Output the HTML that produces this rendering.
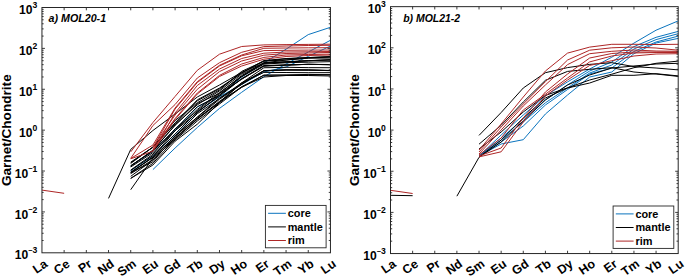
<!DOCTYPE html><html><head><meta charset="utf-8"><style>html,body{margin:0;padding:0;background:#fff;}svg{display:block}text{font-family:"Liberation Sans",sans-serif;}</style></head><body>
<svg width="685" height="277" viewBox="0 0 685 277">
<rect width="685" height="277" fill="#fff"/>
<path d="M130.72,165.95 L152.91,151.34 L175.10,129.67 L197.30,107.04 L219.49,95.57 L241.68,77.00 L263.87,63.00 L286.07,49.20 L308.26,34.60 L330.45,27.30" fill="none" stroke="#0A74BE" stroke-width="1" stroke-linejoin="round"/>
<path d="M130.72,170.76 L152.91,155.80 L175.10,134.31 L197.30,111.92 L219.49,96.69 L241.68,84.50 L263.87,72.00 L286.07,67.00 L308.26,56.40 L330.45,46.00" fill="none" stroke="#0A74BE" stroke-width="1" stroke-linejoin="round"/>
<path d="M152.91,169.60 L175.10,148.00 L197.30,127.50 L219.49,108.40 L241.68,92.30 L263.87,76.70 L286.07,64.00 L308.26,52.00 L330.45,40.30" fill="none" stroke="#0A74BE" stroke-width="1" stroke-linejoin="round"/>
<path d="M108.53,198.40 L130.72,149.40 L152.91,130.50 L175.10,114.00 L197.30,97.00 L219.49,85.00 L241.68,72.30 L263.87,63.00 L286.07,60.00 L308.26,58.00 L330.45,57.00" fill="none" stroke="#000000" stroke-width="1" stroke-linejoin="round"/>
<path d="M130.72,189.70 L152.91,158.00 L175.10,140.00 L197.30,121.00 L219.49,104.00 L241.68,87.00 L263.87,77.00 L286.07,75.50 L308.26,75.50 L330.45,76.00" fill="none" stroke="#000000" stroke-width="1" stroke-linejoin="round"/>
<path d="M130.72,162.79 L152.91,147.26 L175.10,122.87 L197.30,99.85 L219.49,88.03 L241.68,72.88 L263.87,60.55 L286.07,58.51 L308.26,57.58 L330.45,56.72" fill="none" stroke="#000000" stroke-width="1" stroke-linejoin="round"/>
<path d="M130.72,162.18 L152.91,147.20 L175.10,120.51 L197.30,102.74 L219.49,89.88 L241.68,71.36 L263.87,61.19 L286.07,58.78 L308.26,57.59 L330.45,56.65" fill="none" stroke="#000000" stroke-width="1" stroke-linejoin="round"/>
<path d="M130.72,163.43 L152.91,146.99 L175.10,123.75 L197.30,100.81 L219.49,88.70 L241.68,73.11 L263.87,61.12 L286.07,59.98 L308.26,58.16 L330.45,58.04" fill="none" stroke="#000000" stroke-width="1" stroke-linejoin="round"/>
<path d="M130.72,165.99 L152.91,150.80 L175.10,124.94 L197.30,104.84 L219.49,90.91 L241.68,74.15 L263.87,63.40 L286.07,62.10 L308.26,60.70 L330.45,59.88" fill="none" stroke="#000000" stroke-width="1" stroke-linejoin="round"/>
<path d="M130.72,166.06 L152.91,150.06 L175.10,125.32 L197.30,103.61 L219.49,93.30 L241.68,75.56 L263.87,63.28 L286.07,61.73 L308.26,60.77 L330.45,59.94" fill="none" stroke="#000000" stroke-width="1" stroke-linejoin="round"/>
<path d="M130.72,165.65 L152.91,151.04 L175.10,129.37 L197.30,106.74 L219.49,95.27 L241.68,76.42 L263.87,62.66 L286.07,61.88 L308.26,60.67 L330.45,59.71" fill="none" stroke="#000000" stroke-width="1" stroke-linejoin="round"/>
<path d="M130.72,167.00 L152.91,152.64 L175.10,130.92 L197.30,109.39 L219.49,92.51 L241.68,76.63 L263.87,64.18 L286.07,62.74 L308.26,62.18 L330.45,61.67" fill="none" stroke="#000000" stroke-width="1" stroke-linejoin="round"/>
<path d="M130.72,170.04 L152.91,154.21 L175.10,128.83 L197.30,110.65 L219.49,93.60 L241.68,79.26 L263.87,65.69 L286.07,64.95 L308.26,64.33 L330.45,64.51" fill="none" stroke="#000000" stroke-width="1" stroke-linejoin="round"/>
<path d="M130.72,172.82 L152.91,156.84 L175.10,130.64 L197.30,112.69 L219.49,94.98 L241.68,79.03 L263.87,66.28 L286.07,65.09 L308.26,64.26 L330.45,64.80" fill="none" stroke="#000000" stroke-width="1" stroke-linejoin="round"/>
<path d="M130.72,170.46 L152.91,155.50 L175.10,134.01 L197.30,111.62 L219.49,96.39 L241.68,78.50 L263.87,65.67 L286.07,65.05 L308.26,64.35 L330.45,64.64" fill="none" stroke="#000000" stroke-width="1" stroke-linejoin="round"/>
<path d="M130.72,172.12 L152.91,157.42 L175.10,136.15 L197.30,113.68 L219.49,98.64 L241.68,82.86 L263.87,67.75 L286.07,67.29 L308.26,67.65 L330.45,67.73" fill="none" stroke="#000000" stroke-width="1" stroke-linejoin="round"/>
<path d="M130.72,172.55 L152.91,157.32 L175.10,136.49 L197.30,117.06 L219.49,98.01 L241.68,84.11 L263.87,70.81 L286.07,70.06 L308.26,70.15 L330.45,70.44" fill="none" stroke="#000000" stroke-width="1" stroke-linejoin="round"/>
<path d="M130.72,172.60 L152.91,161.79 L175.10,135.60 L197.30,117.40 L219.49,99.31 L241.68,84.42 L263.87,70.58 L286.07,69.88 L308.26,70.01 L330.45,70.69" fill="none" stroke="#000000" stroke-width="1" stroke-linejoin="round"/>
<path d="M130.72,173.70 L152.91,159.62 L175.10,138.32 L197.30,119.43 L219.49,101.91 L241.68,82.91 L263.87,70.83 L286.07,69.82 L308.26,69.91 L330.45,70.51" fill="none" stroke="#000000" stroke-width="1" stroke-linejoin="round"/>
<path d="M130.72,176.32 L152.91,159.94 L175.10,137.95 L197.30,118.67 L219.49,102.76 L241.68,83.13 L263.87,72.39 L286.07,72.53 L308.26,72.69 L330.45,72.66" fill="none" stroke="#000000" stroke-width="1" stroke-linejoin="round"/>
<path d="M130.72,178.37 L152.91,163.31 L175.10,139.11 L197.30,118.58 L219.49,101.35 L241.68,87.43 L263.87,75.16 L286.07,75.08 L308.26,74.41 L330.45,74.75" fill="none" stroke="#000000" stroke-width="1" stroke-linejoin="round"/>
<path d="M130.72,178.42 L152.91,165.01 L175.10,141.20 L197.30,124.20 L219.49,102.63 L241.68,86.70 L263.87,75.19 L286.07,75.04 L308.26,74.84 L330.45,74.78" fill="none" stroke="#000000" stroke-width="1" stroke-linejoin="round"/>
<path d="M41.95,190.10 L64.14,193.30" fill="none" stroke="#AE2626" stroke-width="1" stroke-linejoin="round"/>
<path d="M130.72,151.90 L152.91,122.50 L175.10,96.40 L197.30,70.30 L219.49,54.20 L241.68,46.50 L263.87,44.90 L286.07,44.60 L308.26,44.40 L330.45,44.20" fill="none" stroke="#AE2626" stroke-width="1" stroke-linejoin="round"/>
<path d="M130.72,158.30 L152.91,125.50 L175.10,104.50 L197.30,78.00 L219.49,62.70 L241.68,52.30 L263.87,46.60 L286.07,46.00 L308.26,45.50 L330.45,45.30" fill="none" stroke="#AE2626" stroke-width="1" stroke-linejoin="round"/>
<path d="M130.72,158.50 L152.91,145.00 L175.10,108.00 L197.30,81.70 L219.49,65.30 L241.68,55.00 L263.87,48.30 L286.07,48.00 L308.26,47.80 L330.45,47.70" fill="none" stroke="#AE2626" stroke-width="1" stroke-linejoin="round"/>
<path d="M152.91,147.50 L175.10,109.00 L197.30,82.50 L219.49,66.00 L241.68,55.80 L263.87,50.60 L286.07,50.30 L308.26,50.10 L330.45,50.00" fill="none" stroke="#AE2626" stroke-width="1" stroke-linejoin="round"/>
<path d="M130.72,158.80 L152.91,151.20 L175.10,113.00 L197.30,85.50 L219.49,69.00 L241.68,58.50 L263.87,53.20 L286.07,52.00 L308.26,51.80 L330.45,51.50" fill="none" stroke="#AE2626" stroke-width="1" stroke-linejoin="round"/>
<path d="M152.91,147.00 L175.10,115.00 L197.30,89.30 L219.49,71.60 L241.68,61.00 L263.87,55.20 L286.07,53.50 L308.26,53.00 L330.45,52.40" fill="none" stroke="#AE2626" stroke-width="1" stroke-linejoin="round"/>
<path d="M152.91,149.00 L175.10,118.50 L197.30,93.00 L219.49,75.40 L241.68,64.00 L263.87,57.40 L286.07,55.00 L308.26,54.50 L330.45,54.10" fill="none" stroke="#AE2626" stroke-width="1" stroke-linejoin="round"/>
<path d="M152.91,151.00 L175.10,119.50 L197.30,94.00 L219.49,76.50 L241.68,66.00 L263.87,59.20 L286.07,56.50 L308.26,55.50 L330.45,55.00" fill="none" stroke="#AE2626" stroke-width="1" stroke-linejoin="round"/>
<path d="M64.14,252.80v-2.8M64.14,7.50v2.8M86.33,252.80v-2.8M86.33,7.50v2.8M108.53,252.80v-2.8M108.53,7.50v2.8M130.72,252.80v-2.8M130.72,7.50v2.8M152.91,252.80v-2.8M152.91,7.50v2.8M175.10,252.80v-2.8M175.10,7.50v2.8M197.30,252.80v-2.8M197.30,7.50v2.8M219.49,252.80v-2.8M219.49,7.50v2.8M241.68,252.80v-2.8M241.68,7.50v2.8M263.87,252.80v-2.8M263.87,7.50v2.8M286.07,252.80v-2.8M286.07,7.50v2.8M308.26,252.80v-2.8M308.26,7.50v2.8M41.95,240.49h1.7M330.45,240.49h-1.7M41.95,233.29h1.7M330.45,233.29h-1.7M41.95,228.19h1.7M330.45,228.19h-1.7M41.95,224.22h1.7M330.45,224.22h-1.7M41.95,220.99h1.7M330.45,220.99h-1.7M41.95,218.25h1.7M330.45,218.25h-1.7M41.95,215.88h1.7M330.45,215.88h-1.7M41.95,213.79h1.7M330.45,213.79h-1.7M41.95,211.92h3M330.45,211.92h-3M41.95,199.61h1.7M330.45,199.61h-1.7M41.95,192.41h1.7M330.45,192.41h-1.7M41.95,187.30h1.7M330.45,187.30h-1.7M41.95,183.34h1.7M330.45,183.34h-1.7M41.95,180.10h1.7M330.45,180.10h-1.7M41.95,177.37h1.7M330.45,177.37h-1.7M41.95,175.00h1.7M330.45,175.00h-1.7M41.95,172.90h1.7M330.45,172.90h-1.7M41.95,171.03h3M330.45,171.03h-3M41.95,158.73h1.7M330.45,158.73h-1.7M41.95,151.53h1.7M330.45,151.53h-1.7M41.95,146.42h1.7M330.45,146.42h-1.7M41.95,142.46h1.7M330.45,142.46h-1.7M41.95,139.22h1.7M330.45,139.22h-1.7M41.95,136.48h1.7M330.45,136.48h-1.7M41.95,134.11h1.7M330.45,134.11h-1.7M41.95,132.02h1.7M330.45,132.02h-1.7M41.95,130.15h3M330.45,130.15h-3M41.95,117.84h1.7M330.45,117.84h-1.7M41.95,110.64h1.7M330.45,110.64h-1.7M41.95,105.54h1.7M330.45,105.54h-1.7M41.95,101.57h1.7M330.45,101.57h-1.7M41.95,98.34h1.7M330.45,98.34h-1.7M41.95,95.60h1.7M330.45,95.60h-1.7M41.95,93.23h1.7M330.45,93.23h-1.7M41.95,91.14h1.7M330.45,91.14h-1.7M41.95,89.27h3M330.45,89.27h-3M41.95,76.96h1.7M330.45,76.96h-1.7M41.95,69.76h1.7M330.45,69.76h-1.7M41.95,64.65h1.7M330.45,64.65h-1.7M41.95,60.69h1.7M330.45,60.69h-1.7M41.95,57.45h1.7M330.45,57.45h-1.7M41.95,54.72h1.7M330.45,54.72h-1.7M41.95,52.35h1.7M330.45,52.35h-1.7M41.95,50.25h1.7M330.45,50.25h-1.7M41.95,48.38h3M330.45,48.38h-3M41.95,36.08h1.7M330.45,36.08h-1.7M41.95,28.88h1.7M330.45,28.88h-1.7M41.95,23.77h1.7M330.45,23.77h-1.7M41.95,19.81h1.7M330.45,19.81h-1.7M41.95,16.57h1.7M330.45,16.57h-1.7M41.95,13.83h1.7M330.45,13.83h-1.7M41.95,11.46h1.7M330.45,11.46h-1.7M41.95,9.37h1.7M330.45,9.37h-1.7" stroke="#262626" stroke-width="0.9" fill="none"/>
<rect x="41.95" y="7.50" width="288.50" height="245.30" fill="none" stroke="#262626" stroke-width="1"/>
<text x="37.35" y="259.40" text-anchor="end" font-size="12.1" font-weight="bold" fill="#000">10<tspan dy="-6.4" font-size="7.4">−</tspan><tspan dy="0.4" font-size="8.6">3</tspan></text>
<text x="37.35" y="218.52" text-anchor="end" font-size="12.1" font-weight="bold" fill="#000">10<tspan dy="-6.4" font-size="7.4">−</tspan><tspan dy="0.4" font-size="8.6">2</tspan></text>
<text x="37.35" y="177.63" text-anchor="end" font-size="12.1" font-weight="bold" fill="#000">10<tspan dy="-6.4" font-size="7.4">−</tspan><tspan dy="0.4" font-size="8.6">1</tspan></text>
<text x="37.35" y="136.75" text-anchor="end" font-size="12.1" font-weight="bold" fill="#000">10<tspan dy="-6" font-size="8.6">0</tspan></text>
<text x="37.35" y="95.87" text-anchor="end" font-size="12.1" font-weight="bold" fill="#000">10<tspan dy="-6" font-size="8.6">1</tspan></text>
<text x="37.35" y="54.98" text-anchor="end" font-size="12.1" font-weight="bold" fill="#000">10<tspan dy="-6" font-size="8.6">2</tspan></text>
<text x="37.35" y="14.10" text-anchor="end" font-size="12.1" font-weight="bold" fill="#000">10<tspan dy="-6" font-size="8.6">3</tspan></text>
<text transform="translate(45.95,262.30) rotate(-35)" x="0" y="0" dy="4.2" text-anchor="end" font-size="12.4" font-weight="bold" fill="#000">La</text>
<text transform="translate(68.14,262.30) rotate(-35)" x="0" y="0" dy="4.2" text-anchor="end" font-size="12.4" font-weight="bold" fill="#000">Ce</text>
<text transform="translate(90.33,262.30) rotate(-35)" x="0" y="0" dy="4.2" text-anchor="end" font-size="12.4" font-weight="bold" fill="#000">Pr</text>
<text transform="translate(112.53,262.30) rotate(-35)" x="0" y="0" dy="4.2" text-anchor="end" font-size="12.4" font-weight="bold" fill="#000">Nd</text>
<text transform="translate(134.72,262.30) rotate(-35)" x="0" y="0" dy="4.2" text-anchor="end" font-size="12.4" font-weight="bold" fill="#000">Sm</text>
<text transform="translate(156.91,262.30) rotate(-35)" x="0" y="0" dy="4.2" text-anchor="end" font-size="12.4" font-weight="bold" fill="#000">Eu</text>
<text transform="translate(179.10,262.30) rotate(-35)" x="0" y="0" dy="4.2" text-anchor="end" font-size="12.4" font-weight="bold" fill="#000">Gd</text>
<text transform="translate(201.30,262.30) rotate(-35)" x="0" y="0" dy="4.2" text-anchor="end" font-size="12.4" font-weight="bold" fill="#000">Tb</text>
<text transform="translate(223.49,262.30) rotate(-35)" x="0" y="0" dy="4.2" text-anchor="end" font-size="12.4" font-weight="bold" fill="#000">Dy</text>
<text transform="translate(245.68,262.30) rotate(-35)" x="0" y="0" dy="4.2" text-anchor="end" font-size="12.4" font-weight="bold" fill="#000">Ho</text>
<text transform="translate(267.87,262.30) rotate(-35)" x="0" y="0" dy="4.2" text-anchor="end" font-size="12.4" font-weight="bold" fill="#000">Er</text>
<text transform="translate(290.07,262.30) rotate(-35)" x="0" y="0" dy="4.2" text-anchor="end" font-size="12.4" font-weight="bold" fill="#000">Tm</text>
<text transform="translate(312.26,262.30) rotate(-35)" x="0" y="0" dy="4.2" text-anchor="end" font-size="12.4" font-weight="bold" fill="#000">Yb</text>
<text transform="translate(334.45,262.30) rotate(-35)" x="0" y="0" dy="4.2" text-anchor="end" font-size="12.4" font-weight="bold" fill="#000">Lu</text>
<path d="M479.02,156.00 L501.15,135.00 L523.28,115.00 L545.42,95.80 L567.55,81.90 L589.68,69.00 L611.81,57.20 L633.94,43.10 L656.07,30.20 L678.20,20.90" fill="none" stroke="#0A74BE" stroke-width="1" stroke-linejoin="round"/>
<path d="M479.02,156.00 L501.15,138.00 L523.28,119.00 L545.42,99.80 L567.55,84.90 L589.68,71.00 L611.81,62.00 L633.94,46.60 L656.07,37.30 L678.20,31.40" fill="none" stroke="#0A74BE" stroke-width="1" stroke-linejoin="round"/>
<path d="M479.02,155.50 L501.15,140.00 L523.28,122.00 L545.42,102.80 L567.55,87.90 L589.68,73.00 L611.81,65.00 L633.94,49.00 L656.07,39.60 L678.20,33.70" fill="none" stroke="#0A74BE" stroke-width="1" stroke-linejoin="round"/>
<path d="M479.02,156.00 L501.15,142.00 L523.28,126.00 L545.42,105.00 L567.55,89.50 L589.68,74.00 L611.81,68.00 L633.94,51.50 L656.07,42.00 L678.20,36.10" fill="none" stroke="#0A74BE" stroke-width="1" stroke-linejoin="round"/>
<path d="M479.02,156.00 L501.15,144.00 L523.28,139.70 L545.42,114.00 L567.55,95.00 L589.68,77.00 L611.81,72.00 L633.94,53.70 L656.07,43.00 L678.20,38.40" fill="none" stroke="#0A74BE" stroke-width="1" stroke-linejoin="round"/>
<path d="M390.50,195.30 L412.63,195.70" fill="none" stroke="#000000" stroke-width="1" stroke-linejoin="round"/>
<path d="M479.02,135.40 L501.15,112.50 L523.28,88.00 L545.42,72.70 L567.55,67.60 L589.68,64.40 L611.81,62.70 L633.94,66.60 L656.07,68.00 L678.20,69.90" fill="none" stroke="#000000" stroke-width="1" stroke-linejoin="round"/>
<path d="M479.02,144.20 L501.15,125.30 L523.28,102.00 L545.42,80.30 L567.55,71.40 L589.68,69.30 L611.81,67.70 L633.94,72.00 L656.07,74.00 L678.20,76.40" fill="none" stroke="#000000" stroke-width="1" stroke-linejoin="round"/>
<path d="M479.02,149.00 L501.15,132.00 L523.28,112.00 L545.42,95.40 L567.55,87.80 L589.68,80.00 L611.81,74.20 L633.94,67.70 L656.07,63.30 L678.20,61.10" fill="none" stroke="#000000" stroke-width="1" stroke-linejoin="round"/>
<path d="M479.02,157.00 L501.15,140.00 L523.28,118.00 L545.42,98.00 L567.55,88.00 L589.68,83.00 L611.81,75.30 L633.94,75.30 L656.07,73.70 L678.20,75.90" fill="none" stroke="#000000" stroke-width="1" stroke-linejoin="round"/>
<path d="M456.89,196.20 L479.02,157.30 L501.15,142.00 L523.28,121.00 L545.42,100.00 L567.55,85.00 L589.68,75.00 L611.81,68.00 L633.94,66.00 L656.07,64.00 L678.20,63.30" fill="none" stroke="#000000" stroke-width="1" stroke-linejoin="round"/>
<path d="M390.50,190.30 L412.63,193.50" fill="none" stroke="#AE2626" stroke-width="1" stroke-linejoin="round"/>
<path d="M479.02,150.00 L501.15,124.00 L523.28,97.00 L545.42,71.00 L567.55,53.10 L589.68,47.10 L611.81,44.30 L633.94,44.30 L656.07,44.50 L678.20,44.30" fill="none" stroke="#AE2626" stroke-width="1" stroke-linejoin="round"/>
<path d="M479.02,152.00 L501.15,127.00 L523.28,104.00 L545.42,81.70 L567.55,60.00 L589.68,50.20 L611.81,47.80 L633.94,47.00 L656.07,48.00 L678.20,50.20" fill="none" stroke="#AE2626" stroke-width="1" stroke-linejoin="round"/>
<path d="M479.02,154.00 L501.15,130.00 L523.28,106.00 L545.42,85.00 L567.55,64.60 L589.68,53.70 L611.81,51.30 L633.94,50.00 L656.07,51.00 L678.20,51.30" fill="none" stroke="#AE2626" stroke-width="1" stroke-linejoin="round"/>
<path d="M479.02,155.00 L501.15,138.00 L523.28,110.00 L545.42,94.20 L567.55,78.00 L589.68,61.90 L611.81,56.00 L633.94,53.00 L656.07,52.50 L678.20,52.50" fill="none" stroke="#AE2626" stroke-width="1" stroke-linejoin="round"/>
<path d="M479.02,156.90 L501.15,151.80 L523.28,122.00 L545.42,96.00 L567.55,80.00 L589.68,65.40 L611.81,60.70 L633.94,56.00 L656.07,54.00 L678.20,53.70" fill="none" stroke="#AE2626" stroke-width="1" stroke-linejoin="round"/>
<path d="M479.02,156.00 L501.15,148.00 L523.28,118.00 L545.42,92.00 L567.55,74.00 L589.68,58.00 L611.81,53.50 L633.94,52.00 L656.07,52.00 L678.20,52.00" fill="none" stroke="#AE2626" stroke-width="1" stroke-linejoin="round"/>
<path d="M412.63,253.55v-2.8M412.63,6.65v2.8M434.76,253.55v-2.8M434.76,6.65v2.8M456.89,253.55v-2.8M456.89,6.65v2.8M479.02,253.55v-2.8M479.02,6.65v2.8M501.15,253.55v-2.8M501.15,6.65v2.8M523.28,253.55v-2.8M523.28,6.65v2.8M545.42,253.55v-2.8M545.42,6.65v2.8M567.55,253.55v-2.8M567.55,6.65v2.8M589.68,253.55v-2.8M589.68,6.65v2.8M611.81,253.55v-2.8M611.81,6.65v2.8M633.94,253.55v-2.8M633.94,6.65v2.8M656.07,253.55v-2.8M656.07,6.65v2.8M390.50,241.16h1.7M678.20,241.16h-1.7M390.50,233.92h1.7M678.20,233.92h-1.7M390.50,228.78h1.7M678.20,228.78h-1.7M390.50,224.79h1.7M678.20,224.79h-1.7M390.50,221.53h1.7M678.20,221.53h-1.7M390.50,218.77h1.7M678.20,218.77h-1.7M390.50,216.39h1.7M678.20,216.39h-1.7M390.50,214.28h1.7M678.20,214.28h-1.7M390.50,212.40h3M678.20,212.40h-3M390.50,200.01h1.7M678.20,200.01h-1.7M390.50,192.77h1.7M678.20,192.77h-1.7M390.50,187.63h1.7M678.20,187.63h-1.7M390.50,183.64h1.7M678.20,183.64h-1.7M390.50,180.38h1.7M678.20,180.38h-1.7M390.50,177.62h1.7M678.20,177.62h-1.7M390.50,175.24h1.7M678.20,175.24h-1.7M390.50,173.13h1.7M678.20,173.13h-1.7M390.50,171.25h3M678.20,171.25h-3M390.50,158.86h1.7M678.20,158.86h-1.7M390.50,151.62h1.7M678.20,151.62h-1.7M390.50,146.48h1.7M678.20,146.48h-1.7M390.50,142.49h1.7M678.20,142.49h-1.7M390.50,139.23h1.7M678.20,139.23h-1.7M390.50,136.47h1.7M678.20,136.47h-1.7M390.50,134.09h1.7M678.20,134.09h-1.7M390.50,131.98h1.7M678.20,131.98h-1.7M390.50,130.10h3M678.20,130.10h-3M390.50,117.71h1.7M678.20,117.71h-1.7M390.50,110.47h1.7M678.20,110.47h-1.7M390.50,105.33h1.7M678.20,105.33h-1.7M390.50,101.34h1.7M678.20,101.34h-1.7M390.50,98.08h1.7M678.20,98.08h-1.7M390.50,95.32h1.7M678.20,95.32h-1.7M390.50,92.94h1.7M678.20,92.94h-1.7M390.50,90.83h1.7M678.20,90.83h-1.7M390.50,88.95h3M678.20,88.95h-3M390.50,76.56h1.7M678.20,76.56h-1.7M390.50,69.32h1.7M678.20,69.32h-1.7M390.50,64.18h1.7M678.20,64.18h-1.7M390.50,60.19h1.7M678.20,60.19h-1.7M390.50,56.93h1.7M678.20,56.93h-1.7M390.50,54.17h1.7M678.20,54.17h-1.7M390.50,51.79h1.7M678.20,51.79h-1.7M390.50,49.68h1.7M678.20,49.68h-1.7M390.50,47.80h3M678.20,47.80h-3M390.50,35.41h1.7M678.20,35.41h-1.7M390.50,28.17h1.7M678.20,28.17h-1.7M390.50,23.03h1.7M678.20,23.03h-1.7M390.50,19.04h1.7M678.20,19.04h-1.7M390.50,15.78h1.7M678.20,15.78h-1.7M390.50,13.02h1.7M678.20,13.02h-1.7M390.50,10.64h1.7M678.20,10.64h-1.7M390.50,8.53h1.7M678.20,8.53h-1.7" stroke="#262626" stroke-width="0.9" fill="none"/>
<rect x="390.50" y="6.65" width="287.70" height="246.90" fill="none" stroke="#262626" stroke-width="1"/>
<text x="385.90" y="260.15" text-anchor="end" font-size="12.1" font-weight="bold" fill="#000">10<tspan dy="-6.4" font-size="7.4">−</tspan><tspan dy="0.4" font-size="8.6">3</tspan></text>
<text x="385.90" y="219.00" text-anchor="end" font-size="12.1" font-weight="bold" fill="#000">10<tspan dy="-6.4" font-size="7.4">−</tspan><tspan dy="0.4" font-size="8.6">2</tspan></text>
<text x="385.90" y="177.85" text-anchor="end" font-size="12.1" font-weight="bold" fill="#000">10<tspan dy="-6.4" font-size="7.4">−</tspan><tspan dy="0.4" font-size="8.6">1</tspan></text>
<text x="385.90" y="136.70" text-anchor="end" font-size="12.1" font-weight="bold" fill="#000">10<tspan dy="-6" font-size="8.6">0</tspan></text>
<text x="385.90" y="95.55" text-anchor="end" font-size="12.1" font-weight="bold" fill="#000">10<tspan dy="-6" font-size="8.6">1</tspan></text>
<text x="385.90" y="54.40" text-anchor="end" font-size="12.1" font-weight="bold" fill="#000">10<tspan dy="-6" font-size="8.6">2</tspan></text>
<text x="385.90" y="13.25" text-anchor="end" font-size="12.1" font-weight="bold" fill="#000">10<tspan dy="-6" font-size="8.6">3</tspan></text>
<text transform="translate(394.50,262.30) rotate(-35)" x="0" y="0" dy="4.2" text-anchor="end" font-size="12.4" font-weight="bold" fill="#000">La</text>
<text transform="translate(416.63,262.30) rotate(-35)" x="0" y="0" dy="4.2" text-anchor="end" font-size="12.4" font-weight="bold" fill="#000">Ce</text>
<text transform="translate(438.76,262.30) rotate(-35)" x="0" y="0" dy="4.2" text-anchor="end" font-size="12.4" font-weight="bold" fill="#000">Pr</text>
<text transform="translate(460.89,262.30) rotate(-35)" x="0" y="0" dy="4.2" text-anchor="end" font-size="12.4" font-weight="bold" fill="#000">Nd</text>
<text transform="translate(483.02,262.30) rotate(-35)" x="0" y="0" dy="4.2" text-anchor="end" font-size="12.4" font-weight="bold" fill="#000">Sm</text>
<text transform="translate(505.15,262.30) rotate(-35)" x="0" y="0" dy="4.2" text-anchor="end" font-size="12.4" font-weight="bold" fill="#000">Eu</text>
<text transform="translate(527.28,262.30) rotate(-35)" x="0" y="0" dy="4.2" text-anchor="end" font-size="12.4" font-weight="bold" fill="#000">Gd</text>
<text transform="translate(549.42,262.30) rotate(-35)" x="0" y="0" dy="4.2" text-anchor="end" font-size="12.4" font-weight="bold" fill="#000">Tb</text>
<text transform="translate(571.55,262.30) rotate(-35)" x="0" y="0" dy="4.2" text-anchor="end" font-size="12.4" font-weight="bold" fill="#000">Dy</text>
<text transform="translate(593.68,262.30) rotate(-35)" x="0" y="0" dy="4.2" text-anchor="end" font-size="12.4" font-weight="bold" fill="#000">Ho</text>
<text transform="translate(615.81,262.30) rotate(-35)" x="0" y="0" dy="4.2" text-anchor="end" font-size="12.4" font-weight="bold" fill="#000">Er</text>
<text transform="translate(637.94,262.30) rotate(-35)" x="0" y="0" dy="4.2" text-anchor="end" font-size="12.4" font-weight="bold" fill="#000">Tm</text>
<text transform="translate(660.07,262.30) rotate(-35)" x="0" y="0" dy="4.2" text-anchor="end" font-size="12.4" font-weight="bold" fill="#000">Yb</text>
<text transform="translate(682.20,262.30) rotate(-35)" x="0" y="0" dy="4.2" text-anchor="end" font-size="12.4" font-weight="bold" fill="#000">Lu</text>
<text transform="translate(11.2,130.2) rotate(-90)" x="0" y="0" text-anchor="middle" font-size="13.6" font-weight="bold" fill="#000">Garnet/Chondrite</text>
<text transform="translate(359.2,130.2) rotate(-90)" x="0" y="0" text-anchor="middle" font-size="13.6" font-weight="bold" fill="#000">Garnet/Chondrite</text>
<text x="48.6" y="22.4" font-size="10.7" font-weight="bold" font-style="italic" fill="#000" textLength="57.5" lengthAdjust="spacingAndGlyphs">a) MOL20-1</text>
<text x="403.2" y="22.4" font-size="10.7" font-weight="bold" font-style="italic" fill="#000" textLength="57" lengthAdjust="spacingAndGlyphs">b) MOL21-2</text>
<rect x="265.40" y="205.40" width="60.7" height="42.4" fill="#fff" stroke="#262626" stroke-width="0.9"/>
<line x1="268.10" y1="213.30" x2="285.90" y2="213.30" stroke="#0A74BE" stroke-width="1"/>
<text x="287.70" y="217.20" font-size="10.9" font-weight="bold" fill="#000">core</text>
<line x1="268.10" y1="226.90" x2="285.90" y2="226.90" stroke="#000000" stroke-width="1"/>
<text x="287.70" y="230.80" font-size="10.9" font-weight="bold" fill="#000">mantle</text>
<line x1="268.10" y1="240.50" x2="285.90" y2="240.50" stroke="#AE2626" stroke-width="1"/>
<text x="287.70" y="244.40" font-size="10.9" font-weight="bold" fill="#000">rim</text>
<rect x="613.10" y="206.00" width="60.7" height="42.4" fill="#fff" stroke="#262626" stroke-width="0.9"/>
<line x1="615.80" y1="213.90" x2="633.60" y2="213.90" stroke="#0A74BE" stroke-width="1"/>
<text x="635.40" y="217.80" font-size="10.9" font-weight="bold" fill="#000">core</text>
<line x1="615.80" y1="227.50" x2="633.60" y2="227.50" stroke="#000000" stroke-width="1"/>
<text x="635.40" y="231.40" font-size="10.9" font-weight="bold" fill="#000">mantle</text>
<line x1="615.80" y1="241.10" x2="633.60" y2="241.10" stroke="#AE2626" stroke-width="1"/>
<text x="635.40" y="245.00" font-size="10.9" font-weight="bold" fill="#000">rim</text>
</svg></body></html>
